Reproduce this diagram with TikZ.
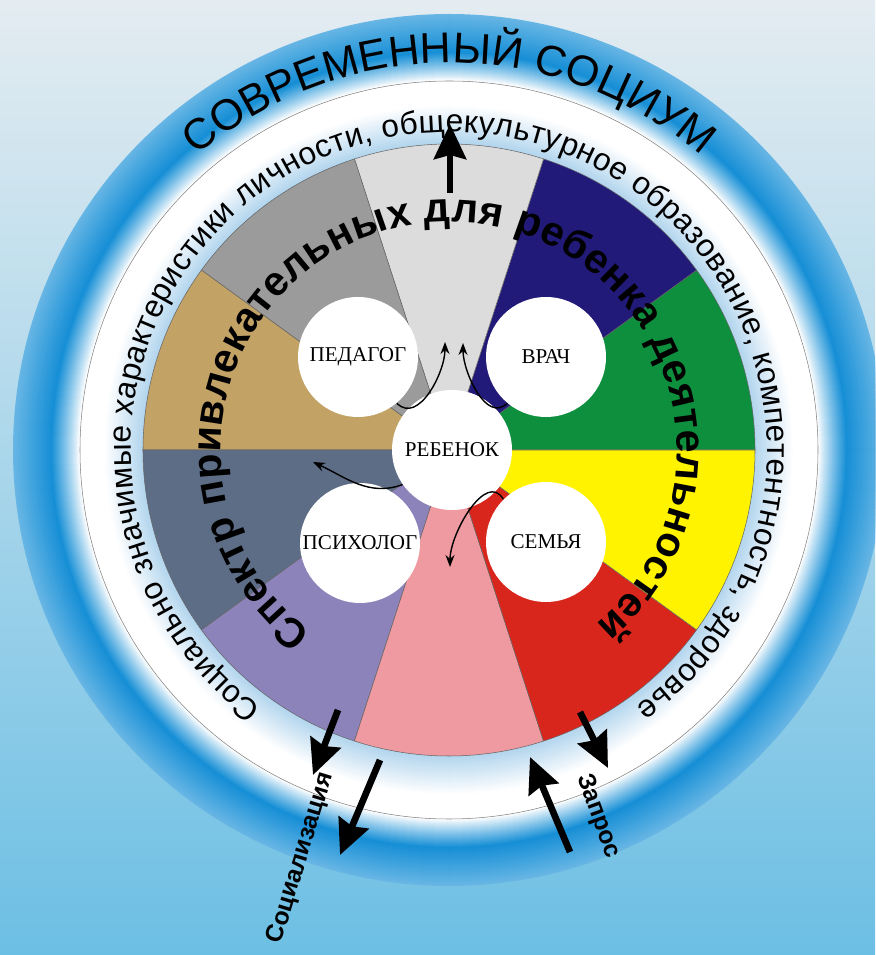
\documentclass[tikz,border=0pt]{standalone}
\usepackage{fontspec}
\newfontfamily\ringfont{Liberation Sans}
\newfontfamily\labelfont{Liberation Serif}
\usetikzlibrary{arrows.meta}
\usetikzlibrary{decorations.text}
\definecolor{bgtop}{HTML}{E4ECF1}
\definecolor{bgbot}{HTML}{6CBFE4}
\definecolor{ringblue}{HTML}{168FD6}
\definecolor{paleblue}{HTML}{B3D6EE}
\definecolor{pgreen}{HTML}{0D8F3E}
\definecolor{pnavy}{HTML}{221A78}
\definecolor{plight}{HTML}{DCDCDC}
\definecolor{pgrey}{HTML}{9B9B9B}
\definecolor{ptan}{HTML}{C3A266}
\definecolor{pslate}{HTML}{5D6D86}
\definecolor{ppurple}{HTML}{8C83BB}
\definecolor{ppink}{HTML}{EF9AA0}
\definecolor{pred}{HTML}{D9261D}
\definecolor{pyellow}{HTML}{FFF300}
\tikzset{
  person/.style    = { circle, fill=white, minimum size=2.4cm, inner sep=0pt,
                       font=\labelfont\fontsize{12}{14}\selectfont },
  slice/.style     = { draw=black!60, line width=0.3pt },
  flow/.style      = { -{Stealth[length=2.4mm,width=1.8mm]}, line width=0.8pt },
  bigarrow/.style  = { -{Stealth[length=7mm,width=6.4mm,inset=0.8mm]}, line width=3.8pt },
  sidelabel/.style = { font=\ringfont\bfseries\fontsize{14}{16}\selectfont },
}
\begin{document}
\begin{tikzpicture}[x=0.02cm,y=0.02cm]
  \clip (-449,-505) rectangle (426,450);
  \fill[top color=bgtop,bottom color=bgbot] (-449,-505) rectangle (426,450);

  % outer ring
  \foreach \r in {436,435,...,370}{
    \pgfmathsetmacro\p{\r<398 ? 100*((\r-370)/28)^0.9 : 100-35*(\r-398)/38}
    \fill[ringblue!\p!white] (0,0) circle[radius=\r];
  }
  % white ring
  \foreach \r in {369,368,...,307}{
    \pgfmathsetmacro\p{\r>345 ? 0 : 100*(345-\r)/38}
    \fill[paleblue!\p!white] (0,0) circle[radius=\r];
  }
  \draw[black!50,line width=0.3pt] (0,0) circle[radius=369];

  % slices
  \foreach \a/\c in {0/pgreen,36/pnavy,72/plight,108/pgrey,144/ptan,
                     180/pslate,216/ppurple,252/ppink,288/pred,324/pyellow}
    \filldraw[slice,fill=\c] (0,0) -- (\a:306) arc[start angle=\a,end angle=\a+36,radius=306] -- cycle;

  % ring texts
  \path[decorate,decoration={text along path,text align=center,
    text={|\ringfont\fontsize{24.5}{26}\selectfont|СОВРЕМЕННЫЙ СОЦИУМ}}]
    (150:387) arc[start angle=150,end angle=30,radius=387];
  \path[decorate,decoration={text along path,text align=fit to path,
    text={|\ringfont\fontsize{18}{20}\selectfont|Социально значимые характеристики личности, общекультурное образование, компетентность, здоровье}}]
    (234:318) arc[start angle=234,end angle=-54,radius=318];
  \path[decorate,decoration={text along path,text align=fit to path,
    text={|\ringfont\bfseries\fontsize{23.5}{26}\selectfont|Спектр привлекательных для ребенка деятельностей}}]
    (233:228) arc[start angle=233,end angle=-50,radius=228];

  % people
  \node (kid)   [person] at (3,0)     {РЕБЕНОК};
  \node (ped)   [person] at (-91,93)  {ПЕДАГОГ};
  \node (vrach) [person] at (97,93)   {ВРАЧ};
  \node (psy)   [person] at (-89,-93) {ПСИХОЛОГ};
  \node (semya) [person] at (97,-92)  {СЕМЬЯ};

  \coordinate (pedtip)   at (-4,108);
  \coordinate (vrachtip) at (14,107);
  \coordinate (kidtip)   at (-136,-12);
  \coordinate (semyatip) at (1,-117);

  \draw[flow] (ped.-50)   to[out=-45,in=-90] (pedtip);
  \draw[flow] (vrach.230) to[out=225,in=-90] (vrachtip);
  \draw[flow] (kid.215)   to[out=200,in=-25] (kidtip);
  \draw[flow] (semya.135) to[out=120,in=90]  (semyatip);

  % big arrows
  \coordinate (upfoot) at (1,257);
  \coordinate (uptip)  at (1,326);
  \coordinate (soc1a)  at (-111,-260);
  \coordinate (soc1b)  at (-136,-325);
  \coordinate (soc2a)  at (-69,-310);
  \coordinate (soc2b)  at (-109,-405);
  \coordinate (req1a)  at (131,-262);
  \coordinate (req1b)  at (159,-318);
  \coordinate (req2a)  at (121,-402);
  \coordinate (req2b)  at (81,-307);

  \draw[bigarrow] (upfoot) -- (uptip);
  \draw[bigarrow] (soc1a) -- (soc1b);
  \draw[bigarrow] (soc2a) -- (soc2b);
  \draw[bigarrow] (req1a) -- (req1b);
  \draw[bigarrow] (req2a) -- (req2b);

  \node (soclabel) [sidelabel,rotate=73]  at (-148,-408) {Социализация};
  \node (reqlabel) [sidelabel,rotate=-70] at (149,-366)  {Запрос};
\end{tikzpicture}
\end{document}
